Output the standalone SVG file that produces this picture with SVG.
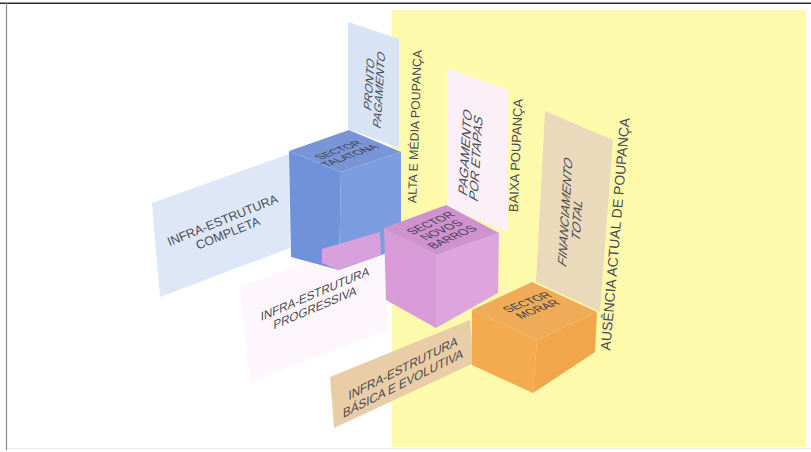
<svg xmlns="http://www.w3.org/2000/svg" width="811" height="452" viewBox="0 0 811 452">
<style>
text{font-family:"Liberation Sans",Arial,sans-serif;fill:#4b4b55;text-anchor:middle}
.c{fill:#3e3e52}
</style>
<rect width="811" height="452" fill="#ffffff"/>
<g id="frame">
<line x1="0" y1="3.3" x2="811" y2="3.3" stroke="#2e2e2e" stroke-width="1.4"/>
<line x1="6.5" y1="3" x2="6.5" y2="450" stroke="#8a8a8a" stroke-width="1.2"/>
<line x1="7" y1="448.5" x2="811" y2="448.5" stroke="#ececec" stroke-width="1"/>
</g>
<rect id="yellow-zone" x="392" y="10" width="414" height="437" fill="#fefaab"/>

<g id="panel-pronto-pagamento">
<polygon points="348,22 399,39 399,148 348,129" fill="#d8e3f5"/>
<text font-size="12" transform="matrix(0.06,-1,0.9,0.5,372.9,86.2)"><tspan x="0" y="0">PRONTO</tspan><tspan x="0" y="11">PAGAMENTO</tspan></text>
</g>
<g id="panel-pagamento-etapas">
<polygon points="447,68 507,90 507,232 447,207" fill="#fbf0f8"/>
<text font-size="13.5" transform="matrix(0.06,-1,0.9,0.5,469.3,154.4)"><tspan x="0" y="0">PAGAMENTO</tspan><tspan x="0" y="12">POR ETAPAS</tspan></text>
</g>
<g id="panel-financiamento-total">
<polygon points="545,111 613,140 600,312 536,282" fill="#eadabb"/>
<text font-size="13" transform="matrix(0.06,-1,0.9,0.6,569.2,214.3)"><tspan x="0" y="0">FINANCIAMENTO</tspan><tspan x="0" y="13">TOTAL</tspan></text>
</g>
<g id="panel-infra-completa">
<polygon points="152,203 289,154 290,248 160,297" fill="#dde7f7"/>
<text font-size="12.5" transform="translate(222.5,220) rotate(-22)"><tspan x="0" y="4.5">INFRA-ESTRUTURA</tspan><tspan x="0" y="18.5">COMPLETA</tspan></text>
</g>
<g id="panel-infra-progressiva">
<polygon points="240,287 384,234 388,330 250,382" fill="#fdf6fc"/>
<text font-size="12.5" transform="matrix(0.92,-0.39,0,1,315,298)"><tspan x="0" y="0">INFRA-ESTRUTURA</tspan><tspan x="0" y="14">PROGRESSIVA</tspan></text>
</g>
<g id="panel-infra-basica">
<polygon points="330,377 470,320 474,363 334,428" fill="#e9cda6"/>
<text font-size="13" transform="matrix(0.89,-0.45,0,1,403,372.6)"><tspan x="0" y="0">INFRA-ESTRUTURA</tspan><tspan x="0" y="15">BÁSICA E EVOLUTIVA</tspan></text>
</g>

<g id="label-alta-media">
<text font-size="12.3" transform="translate(414.5,126.5) rotate(-88)" y="4.5">ALTA E MÉDIA POUPANÇA</text>
</g>
<g id="label-baixa">
<text font-size="13" transform="translate(515.5,155.5) rotate(-87.5)" y="4.6">BAIXA POUPANÇA</text>
</g>
<g id="label-ausencia">
<text font-size="14" transform="translate(615,234) rotate(-85.2)" y="5">AUSÊNCIA ACTUAL DE POUPANÇA</text>
</g>

<g id="cube-talatona">
<polygon points="289,151 341,172 339,270 291,257" fill="#7092db"/>
<polygon points="341,172 401,152 401,248 339,270" fill="#7b9de0"/>
<polygon points="289,151 349,130 401,152 341,172" fill="#7995d5"/>
<polygon points="322,249 380,232 381,255 338,270 322,263" fill="#d9a0de"/>
<text class="c" font-size="11" transform="matrix(0.94,-0.35,0.95,0.45,342,151.8)"><tspan x="0" y="0">SECTOR</tspan><tspan x="0" y="12">TALATONA</tspan></text>
</g>
<g id="cube-novos-barros">
<polygon points="384,228 436,255 436,328 386,300" fill="#d99bd8"/>
<polygon points="436,255 499,233 498,293 436,328" fill="#dea4dd"/>
<polygon points="384,228 446,205 499,233 436,255" fill="#cf92ce"/>
<text class="c" font-size="11.5" transform="matrix(0.914,-0.406,0.9,0.58,434.2,225.4)"><tspan x="0" y="0">SECTOR</tspan><tspan x="0" y="12">NOVOS</tspan><tspan x="0" y="24">BARROS</tspan></text>
</g>
<g id="cube-morar">
<polygon points="472,310 537,340 533,393 472,365" fill="#f4aa4e"/>
<polygon points="537,340 597,312 595,352 533,393" fill="#f2a64c"/>
<polygon points="472,310 532,282 597,312 537,340" fill="#efab57"/>
<text class="c" font-size="11.5" transform="matrix(0.935,-0.354,0.875,0.58,530.6,304.4)"><tspan x="0" y="0">SECTOR</tspan><tspan x="0" y="12">MORAR</tspan></text>
</g>
<g id="connectors"/>
</svg>
